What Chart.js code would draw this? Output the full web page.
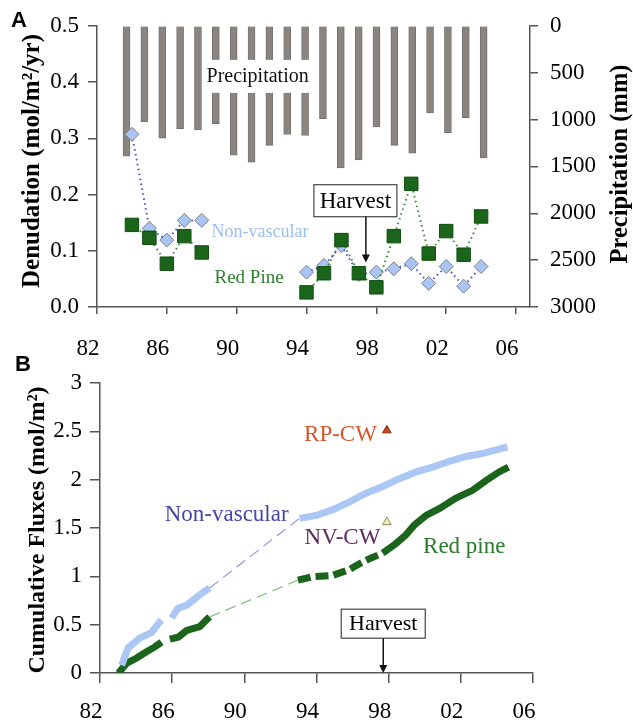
<!DOCTYPE html>
<html>
<head>
<meta charset="utf-8">
<script src="https://cdn.jsdelivr.net/npm/chart.js@4.4.0/dist/chart.umd.min.js"></script>
<style>
  body { margin: 0; background: #fff; }
  #wrap { position: relative; width: 633px; height: 723px; }
  canvas { position: absolute; left: 0; }
  #chartA { top: 0; }
  #chartB { top: 340px; }
</style>
</head>
<body>
<div id="wrap">
  <canvas id="chartA" width="633" height="370"></canvas>
  <canvas id="chartB" width="633" height="383"></canvas>
</div>
<script>
// ---- panel A : yearly denudation + precipitation ----
const years = [1984, 1985, 1986, 1987, 1988, 1989, 1990, 1991, 1992, 1993, 1994,
               1995, 1996, 1997, 1998, 1999, 2000, 2001, 2002, 2003, 2004];
const precipMm = [1390, 1024, 1200, 1097, 1110, 1045, 1380, 1455, 1275, 1160, 1170,
                  990, 1515, 1430, 1080, 1275, 1360, 930, 1140, 980, 1410];
const nonVascular = [0.307, 0.140, 0.119, 0.154, 0.154, null, null, null, null, null, 0.062,
                     0.074, 0.109, 0.058, 0.062, 0.068, 0.077, 0.042, 0.072, 0.037, 0.072];
const redPine = [0.146, 0.123, 0.077, 0.126, 0.097, null, null, null, null, null, 0.026,
                 0.060, 0.119, 0.060, 0.035, 0.126, 0.219, 0.095, 0.135, 0.093, 0.161];

const xTickValues = [1982, 1986, 1990, 1994, 1998, 2002, 2006];
const xTickLabels = ['82', '86', '90', '94', '98', '02', '06'];
const denudTicks = [0, 0.1, 0.2, 0.3, 0.4, 0.5];
const precipTicks = [0, 500, 1000, 1500, 2000, 2500, 3000];

// ---- panel B : cumulative fluxes ----
const nvEarlyYears = [1983.2, 1983.56, 1984.2, 1984.86, 1985.4, null, 1985.97, 1986.33, 1986.8, 1987.53, 1988.08];
const nvEarlyFlux  = [0.08, 0.26, 0.36, 0.42, 0.55, null, 0.57, 0.67, 0.70, 0.81, 0.88];
const nvLateYears = [1993.06, 1993.98, 1994.9, 1995.83, 1996.75, 1997.67, 1998.59, 1999.52,
                     2000.44, 2001.36, 2002.28, 2003.2, 2004.58];
const nvLateFlux  = [1.60, 1.63, 1.69, 1.77, 1.86, 1.93, 2.01, 2.08, 2.13, 2.19, 2.24, 2.27, 2.34];
const rpEarlyYears = [1982.92, 1983.03, 1983.47, 1984.03, 1984.58, 1985.04, 1985.41, null,
                      1985.87, 1986.33, 1986.8, 1987.53, 1987.9, 1988.08];
const rpEarlyFlux  = [0.0, 0.0, 0.10, 0.155, 0.22, 0.27, 0.32, null,
                      0.35, 0.37, 0.44, 0.48, 0.55, 0.58];
const rpLateYears = [1992.97, 1993.8, 1994.9, 1995.83, 1996.38, 1997.03, 1997.67, 1998.41,
                     1998.96, 1999.42, 2000.07, 2000.8, 2001.73, 2002.65, 2003.39, 2004.12, 2004.64];
const rpLateFlux  = [0.96, 0.996, 1.01, 1.07, 1.13, 1.19, 1.24, 1.34,
                     1.43, 1.53, 1.63, 1.70, 1.81, 1.89, 1.99, 2.08, 2.13];
const cwYear = 1997.9;
const rpCatchment = 2.51;
const nvCatchment = 1.56;
const cumTicks = [0, 0.5, 1, 1.5, 2, 2.5, 3];

const serif = '"Liberation Serif", "Times New Roman", serif';
const axisColor = '#555';
const tickFont = { family: serif, size: 23 };

function pts(xs, ys) {
  return xs.map((x, i) => ({ x: x, y: ys[i] }));
}

function vTitle(ctx, text, x, y, size) {
  ctx.save();
  ctx.translate(x, y);
  ctx.rotate(-Math.PI / 2);
  ctx.font = 'bold ' + size + 'px ' + serif;
  ctx.fillStyle = '#000';
  ctx.textAlign = 'center';
  ctx.textBaseline = 'middle';
  ctx.fillText(text, 0, 0);
  ctx.restore();
}

function label(ctx, text, x, y, size, color) {
  ctx.font = size + 'px ' + serif;
  ctx.fillStyle = color;
  ctx.textAlign = 'center';
  ctx.textBaseline = 'middle';
  ctx.fillText(text, x, y);
}

function harvestBox(ctx, cx, cy, w, h, size, ax, axTop, axBottom) {
  ctx.fillStyle = '#fff';
  ctx.fillRect(cx - w / 2, cy - h / 2, w, h);
  ctx.strokeStyle = '#444';
  ctx.lineWidth = 1.2;
  ctx.strokeRect(cx - w / 2, cy - h / 2, w, h);
  label(ctx, 'Harvest', cx, cy + 1, size, '#000');
  // arrow
  ctx.strokeStyle = '#111';
  ctx.lineWidth = 1.5;
  ctx.beginPath();
  ctx.moveTo(ax, axTop);
  ctx.lineTo(ax, axBottom - 6);
  ctx.stroke();
  ctx.fillStyle = '#111';
  ctx.beginPath();
  ctx.moveTo(ax - 4, axBottom - 8);
  ctx.lineTo(ax + 4, axBottom - 8);
  ctx.lineTo(ax, axBottom);
  ctx.closePath();
  ctx.fill();
}

function axisCfg(extra) {
  return Object.assign({
    grid: { drawOnChartArea: false, tickLength: 8, color: axisColor, lineWidth: 1.5 },
    border: { color: axisColor, width: 1.5 }
  }, extra);
}

// ---------- chart A ----------
const notesA = {
  id: 'notesA',
  afterDatasetsDraw(chart) {
    const { ctx } = chart;
    const x = chart.scales.x, y = chart.scales.y, yP = chart.scales.yP;
    ctx.save();
    // precipitation label sits on a white patch over the bars
    const px = x.getPixelForValue(1991.2), py = yP.getPixelForValue(545);
    ctx.fillStyle = '#fff';
    ctx.fillRect(px - 54, py - 17, 108, 33);
    label(ctx, 'Precipitation', px, py, 20, '#111');
    label(ctx, 'Non-vascular', x.getPixelForValue(1991.34), y.getPixelForValue(0.132), 18, '#9dbdf0');
    label(ctx, 'Red Pine', x.getPixelForValue(1990.71), y.getPixelForValue(0.051), 19, '#2f7f2f');
    harvestBox(ctx, x.getPixelForValue(1996.8), y.getPixelForValue(0.189), 83, 32, 23,
               x.getPixelForValue(1997.4), y.getPixelForValue(0.189) + 16, y.getPixelForValue(0.079));
    ctx.font = 'bold 22px "Liberation Sans", Arial, sans-serif';
    ctx.fillStyle = '#000';
    ctx.textAlign = 'left';
    ctx.textBaseline = 'middle';
    ctx.fillText('A', 11, 21);
    vTitle(ctx, 'Denudation (mol/m²/yr)', 33, 161, 25);
    vTitle(ctx, 'Precipitation (mm)', 621, 164, 24.5);
    ctx.restore();
  }
};

new Chart(document.getElementById('chartA'), {
  type: 'line',
  data: {
    datasets: [
      {
        type: 'bar',
        label: 'Precipitation',
        data: pts(years, precipMm),
        xAxisID: 'xBar',
        yAxisID: 'yP',
        backgroundColor: '#8a8580',
        borderColor: '#76716c',
        borderWidth: 1,
        barThickness: 7,
        order: 3
      },
      {
        label: 'Non-vascular',
        data: pts(years, nonVascular),
        xAxisID: 'x',
        yAxisID: 'y',
        borderColor: '#4e4ec4',
        borderWidth: 2,
        borderDash: [1.5, 3.5],
        pointStyle: 'rectRot',
        pointRadius: 7,
        pointBackgroundColor: '#a9c5f3',
        pointBorderColor: '#7f7f8c',
        pointBorderWidth: 1,
        spanGaps: false,
        order: 2
      },
      {
        label: 'Red Pine',
        data: pts(years, redPine),
        xAxisID: 'x',
        yAxisID: 'y',
        borderColor: '#3a8a3a',
        borderWidth: 2,
        borderDash: [1.5, 3.5],
        pointStyle: 'rect',
        pointRadius: 9.5,
        pointBackgroundColor: '#1b651b',
        pointBorderColor: '#0f4f0f',
        pointBorderWidth: 1,
        spanGaps: false,
        order: 1
      }
    ]
  },
  options: {
    responsive: false,
    animation: false,
    layout: { padding: { top: 22, left: 0, right: 0, bottom: 0 } },
    plugins: { legend: { display: false }, tooltip: { enabled: false } },
    scales: {
      x: axisCfg({
        type: 'linear', position: 'bottom', min: 1982, max: 2006.8,
        afterBuildTicks: s => { s.ticks = xTickValues.map(v => ({ value: v })); },
        ticks: {
          font: tickFont, color: '#000', padding: 21, labelOffset: -9,
          maxRotation: 0, autoSkip: false,
          callback: v => xTickLabels[xTickValues.indexOf(v)]
        },
        grid: { drawOnChartArea: false, tickLength: 7, color: axisColor, lineWidth: 1.5 },
        afterFit: s => { s.height = 63; }
      }),
      xBar: { type: 'linear', display: false, offset: false, min: 1982.15, max: 2006.4 },
      y: axisCfg({
        type: 'linear', position: 'left', min: 0, max: 0.5,
        afterBuildTicks: s => { s.ticks = denudTicks.map(v => ({ value: v })); },
        ticks: { font: tickFont, color: '#000', padding: 9, callback: v => v.toFixed(1) },
        grid: { drawOnChartArea: false, tickLength: 9, color: axisColor, lineWidth: 1.5 },
        afterFit: s => { s.width = 97; }
      }),
      yP: axisCfg({
        type: 'linear', position: 'right', min: 0, max: 3000, reverse: true,
        afterBuildTicks: s => { s.ticks = precipTicks.map(v => ({ value: v })); },
        ticks: { font: tickFont, color: '#000', padding: 12, callback: v => String(v) },
        afterFit: s => { s.width = 103; }
      })
    }
  },
  plugins: [notesA]
});

// ---------- chart B ----------
const notesB = {
  id: 'notesB',
  afterDatasetsDraw(chart) {
    const { ctx } = chart;
    const x = chart.scales.x, y = chart.scales.y;
    ctx.save();
    label(ctx, 'RP-CW', x.getPixelForValue(1995.33), y.getPixelForValue(2.46), 23, '#d3562c');
    label(ctx, 'NV-CW', x.getPixelForValue(1995.44), y.getPixelForValue(1.40), 23, '#5b2a5e');
    label(ctx, 'Red pine', x.getPixelForValue(2002.19), y.getPixelForValue(1.30), 23, '#2a7a2a');
    label(ctx, 'Non-vascular', x.getPixelForValue(1989.02), y.getPixelForValue(1.63), 23, '#4646a8');
    harvestBox(ctx, x.getPixelForValue(1997.7), y.getPixelForValue(0.51), 84, 29, 22,
               x.getPixelForValue(1997.7), y.getPixelForValue(0.51) + 14.5, y.getPixelForValue(0));
    ctx.font = 'bold 22px "Liberation Sans", Arial, sans-serif';
    ctx.fillStyle = '#000';
    ctx.textAlign = 'left';
    ctx.textBaseline = 'middle';
    ctx.fillText('B', 15, 25);
    vTitle(ctx, 'Cumulative Fluxes (mol/m²)', 38, 190, 24);
    ctx.restore();
  }
};

const thick = { pointRadius: 0, borderWidth: 7, spanGaps: false, borderCapStyle: 'butt', borderJoinStyle: 'miter' };

new Chart(document.getElementById('chartB'), {
  type: 'line',
  data: {
    datasets: [
      {
        label: 'NV connector',
        data: [pts(nvEarlyYears, nvEarlyFlux).slice(-1)[0], pts(nvLateYears, nvLateFlux)[0]],
        borderColor: '#a0a0e2', borderWidth: 1.3, borderDash: [11, 6], pointRadius: 0
      },
      {
        label: 'RP connector',
        data: [pts(rpEarlyYears, rpEarlyFlux).slice(-1)[0], pts(rpLateYears, rpLateFlux)[0]],
        borderColor: '#8dc18d', borderWidth: 1.3, borderDash: [11, 6], pointRadius: 0
      },
      Object.assign({ label: 'Non-vascular early', data: pts(nvEarlyYears, nvEarlyFlux), borderColor: '#abc7f5' }, thick),
      Object.assign({ label: 'Non-vascular late', data: pts(nvLateYears, nvLateFlux), borderColor: '#abc7f5' }, thick),
      Object.assign({ label: 'Red pine early', data: pts(rpEarlyYears, rpEarlyFlux), borderColor: '#1b641b' }, thick),
      Object.assign({
        label: 'Red pine late', data: pts(rpLateYears, rpLateFlux), borderColor: '#1b641b',
        segment: { borderDash: c => c.p1.parsed.x <= 1997.7 ? [13, 5] : undefined }
      }, thick),
      {
        label: 'RP-CW', data: [{ x: cwYear, y: rpCatchment }], showLine: false,
        pointStyle: 'triangle', pointRadius: 5, pointBackgroundColor: '#c4471d', pointBorderColor: '#8a2e10', pointBorderWidth: 1
      },
      {
        label: 'NV-CW', data: [{ x: cwYear, y: nvCatchment }], showLine: false,
        pointStyle: 'triangle', pointRadius: 5, pointBackgroundColor: '#f3efa2', pointBorderColor: '#8b8b62', pointBorderWidth: 1
      }
    ]
  },
  options: {
    responsive: false,
    animation: false,
    layout: { padding: { top: 43, left: 0, right: 100, bottom: 0 } },
    plugins: { legend: { display: false }, tooltip: { enabled: false } },
    scales: {
      x: axisCfg({
        type: 'linear', position: 'bottom', min: 1982, max: 2006,
        afterBuildTicks: s => { s.ticks = xTickValues.map(v => ({ value: v })); },
        ticks: {
          font: tickFont, color: '#000', padding: 15, labelOffset: -9,
          maxRotation: 0, autoSkip: false,
          callback: v => xTickLabels[xTickValues.indexOf(v)]
        },
        grid: { drawOnChartArea: false, tickLength: 10, color: axisColor, lineWidth: 1.5 },
        afterFit: s => { s.height = 50; }
      }),
      y: axisCfg({
        type: 'linear', position: 'left', min: 0, max: 3,
        afterBuildTicks: s => { s.ticks = cumTicks.map(v => ({ value: v })); },
        ticks: { font: tickFont, color: '#000', padding: 8, callback: v => String(v) },
        grid: { drawOnChartArea: false, tickLength: 10, color: axisColor, lineWidth: 1.5 },
        afterFit: s => { s.width = 100; }
      })
    }
  },
  plugins: [notesB]
});
</script>
</body>
</html>
